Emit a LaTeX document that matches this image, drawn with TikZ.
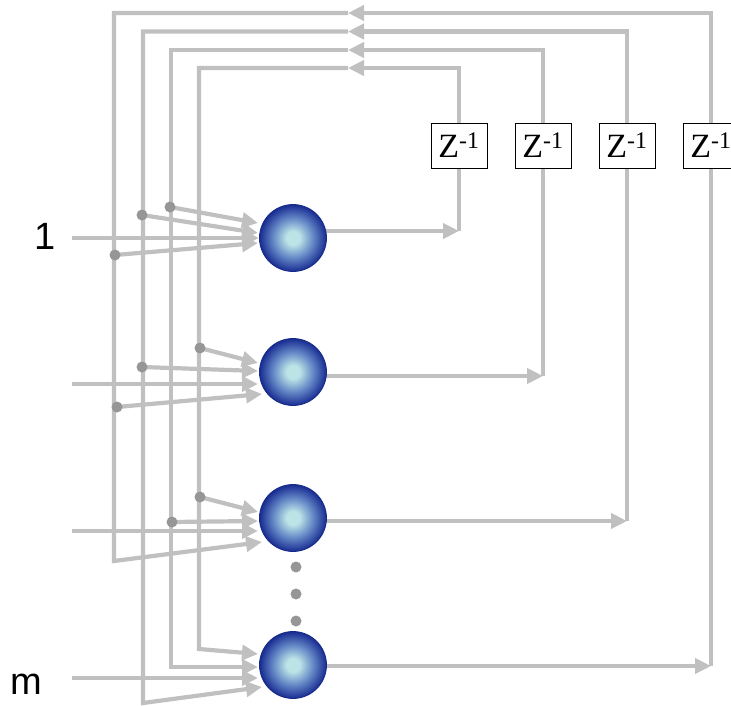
\documentclass[tikz,border=0pt]{standalone}
\usepackage{fontspec}
\setmainfont{Liberation Serif}
\newfontfamily\lsans{Liberation Sans}
\usetikzlibrary{arrows.meta,calc}
\definecolor{lnc}{RGB}{192,192,192}
\definecolor{dotc}{RGB}{150,150,150}
\definecolor{ballin}{RGB}{188,228,230}
\definecolor{ballmid}{RGB}{100,135,198}
\definecolor{ballout}{RGB}{24,44,145}
\definecolor{ballrim}{RGB}{22,42,135}
\pgfdeclareradialshading{neuronball}{\pgfpoint{0bp}{0bp}}{color(0bp)=(ballin); color(5bp)=(ballin); color(15bp)=(ballmid); color(25bp)=(ballout); color(50bp)=(ballout)}
\pgfdeclarelayer{bg}
\pgfsetlayers{bg,main}
\begin{document}
\begin{tikzpicture}[x=1pt,y=-1pt,
  wire/.style={draw=lnc,line width=4.2pt},
  conn/.style={wire,-{Triangle[length=16pt,width=15pt]}},
  neuron/.style={circle,minimum size=67pt,inner sep=0pt,shading=neuronball,draw=ballrim,line width=0.8pt},
  delay/.style={draw=black,line width=0.8pt,fill=white,minimum width=56pt,minimum height=45pt,inner sep=0pt,font=\fontsize{34}{34}\selectfont},
  junc/.style={circle,fill=dotc,minimum size=11pt,inner sep=0pt},
  lab/.style={font=\lsans\fontsize{38}{38}\selectfont,inner sep=0pt}]
\path[use as bounding box,clip] (0,0) rectangle (731,706);

% neurons
\node[neuron] (n1) at (293,238) {};
\node[neuron] (n2) at (293,372) {};
\node[neuron] (n3) at (293,518) {};
\node[neuron] (n4) at (293,665) {};

% delay boxes
\node[delay] (z1) at (459,145.5) {Z\textsuperscript{-1}};
\node[delay] (z2) at (543,145.5) {Z\textsuperscript{-1}};
\node[delay] (z3) at (627,145.5) {Z\textsuperscript{-1}};
\node[delay] (z4) at (711,145.5) {Z\textsuperscript{-1}};

% labels
\node[lab] (l1) at (45,236) {1};
\node[lab] (lm) at (26,684) {m};

% vertical ellipsis dots
\node[junc] (v1) at (296,567) {};
\node[junc] (v2) at (296,594) {};
\node[junc] (v3) at (296,621) {};

% junction dots
\node[junc] (b1) at (170,207) {};
\node[junc] (b2) at (142,215) {};
\node[junc] (b3) at (115,255) {};
\node[junc] (b4) at (200,348) {};
\node[junc] (b5) at (142,367) {};
\node[junc] (b6) at (117,407) {};
\node[junc] (b7) at (200,497) {};
\node[junc] (b8) at (172,522) {};

% coordinates
\coordinate (i1) at (72,238);
\coordinate (i2) at (72,384);
\coordinate (i3) at (72,531);
\coordinate (i4) at (72,678);
\coordinate (o1) at (459,231);
\coordinate (o2) at (543,376);
\coordinate (o3) at (627,521);
\coordinate (o4) at (711,666);
\coordinate (c1) at (459,68);
\coordinate (c2) at (543,50);
\coordinate (c3) at (627,31.5);
\coordinate (c4) at (711,13);
\coordinate (a1) at (348,68);
\coordinate (a2) at (348,50);
\coordinate (a3) at (348,31.5);
\coordinate (a4) at (348,13);
\coordinate (k1) at (199,68);
\coordinate (k2) at (171,50);
\coordinate (k3) at (143,31.5);
\coordinate (k4) at (114,13);
\coordinate (e1) at (199,649);
\coordinate (e2) at (171,667);
\coordinate (e3) at (143,703);
\coordinate (e4) at (114,561);

\begin{pgfonlayer}{bg}
% outputs and feedback loops
\draw[conn] ($(n1)+(0,-7)$) -- (o1);
\draw[wire] (o1) -- (z1.south);
\draw[conn] (z1.north) -- (c1) -- (a1);
\draw[conn] (a1) -- (k1) -- (e1) -- ($(n4)+(-35,-11)$);

\draw[conn] ($(n2)+(0,4)$) -- (o2);
\draw[wire] (o2) -- (z2.south);
\draw[conn] (z2.north) -- (c2) -- (a2);
\draw[conn] (a2) -- (k2) -- (e2) -- ($(n4)+(-35,2)$);

\draw[conn] ($(n3)+(0,3)$) -- (o3);
\draw[wire] (o3) -- (z3.south);
\draw[conn] (z3.north) -- (c3) -- (a3);
\draw[conn] (a3) -- (k3) -- (e3) -- ($(n4)+(-31,22)$);

\draw[conn] ($(n4)+(0,1)$) -- (o4);
\draw[wire] (o4) -- (z4.south);
\draw[conn] (z4.north) -- (c4) -- (a4);
\draw[conn] (a4) -- (k4) -- (e4) -- ($(n3)+(-31,24)$);

% branches
\draw[conn] (b1.center) -- ($(n1)+(-35,-15)$);
\draw[conn] (b2.center) -- ($(n1)+(-35,-5)$);
\draw[conn] (b3.center) -- ($(n1)+(-35,5)$);
\draw[conn] (b4.center) -- ($(n2)+(-35,-9)$);
\draw[conn] (b5.center) -- ($(n2)+(-35,-1)$);
\draw[conn] (b6.center) -- ($(n2)+(-31,22)$);
\draw[conn] (b7.center) -- ($(n3)+(-35,-6)$);
\draw[conn] (b8.center) -- ($(n3)+(-35,3)$);

% inputs
\draw[conn] (i1) -- ($(n1)+(-34,0)$);
\draw[conn] (i2) -- ($(n2)+(-35,12)$);
\draw[conn] (i3) -- ($(n3)+(-35,13)$);
\draw[conn] (i4) -- ($(n4)+(-35,13)$);
\end{pgfonlayer}
\end{tikzpicture}
\end{document}
